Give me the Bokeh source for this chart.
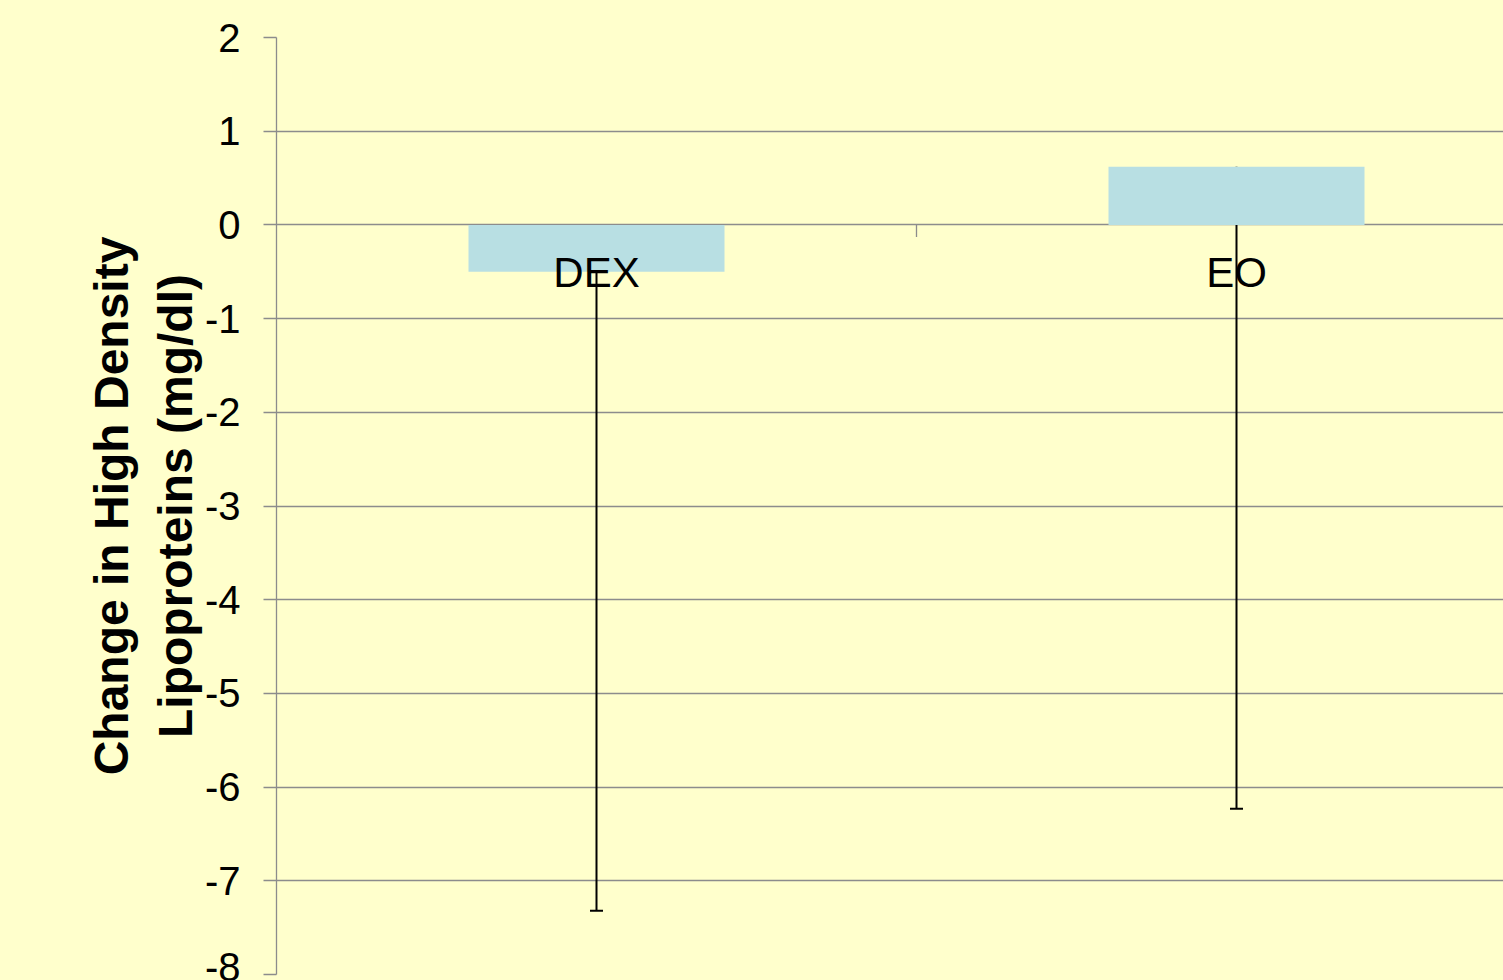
from bokeh.plotting import figure
from bokeh.models import (Range1d, FixedTicker, Whisker, TeeHead, ColumnDataSource,
                          GlobalInlineStyleSheet, PrintfTickFormatter)
from bokeh.core.properties import value
from bokeh.embed import file_html
from bokeh.resources import INLINE

# ---- data ----
categories = ["DEX", "EO"]
changes = [-0.5, 0.62]
error_minus = [6.82, 6.85]
y_ticks = [-8, -7, -6, -5, -4, -3, -2, -1, 0, 1, 2]
y_title = "Change in High Density\nLipoproteins (mg/dl)"

# ---- style ----
BG = "#FFFFCC"
GRID = "#8C8C8C"
BAR = "#B8DFE3"
FONT = "Liberation Sans"

n = len(categories)
xs = [i + 0.5 for i in range(n)]
lows = [v - e for v, e in zip(changes, error_minus)]
src = ColumnDataSource(dict(x=xs, cat=categories, top=changes, lower=lows, zero=[0.0] * n))

W, H = 1503, 980
left, top_b, bottom_b = 276, 37, 6
frame_h = H - top_b - bottom_b
y0, y1 = min(y_ticks), max(y_ticks)
px_per_unit = frame_h / (y1 - y0)
cat_px = 640.0
x_end = (W - left) / cat_px

p = figure(width=W, height=H, output_backend="svg", toolbar_location=None,
           x_range=Range1d(0, x_end), y_range=Range1d(y0, y1),
           x_axis_type=None,
           min_border_left=left, min_border_top=top_b, min_border_bottom=bottom_b,
           min_border_right=0,
           background_fill_color=BG, border_fill_color=BG, outline_line_color=None)
p.stylesheets = [GlobalInlineStyleSheet(css="html, body { background: #FFFFCC; }")]

ticker = FixedTicker(ticks=y_ticks)
p.yaxis.ticker = ticker
p.ygrid.ticker = ticker
p.ygrid.grid_line_color = GRID
p.ygrid.grid_line_width = 1.3

ax = p.yaxis[0]
ax.formatter = PrintfTickFormatter(format="%d")
ax.axis_line_color = GRID
ax.axis_line_width = 1.3
ax.major_tick_line_color = GRID
ax.major_tick_line_width = 1.3
ax.major_tick_out = 13
ax.major_tick_in = 0
ax.minor_tick_line_color = None
ax.major_label_text_font = FONT
ax.major_label_text_font_size = "40px"
ax.major_label_text_color = "black"
ax.major_label_standoff = 23
ax.axis_label = y_title
ax.axis_label_text_font = FONT
ax.axis_label_text_font_size = "48px"
ax.axis_label_text_font_style = "bold"
ax.axis_label_text_color = "black"
ax.axis_label_standoff = 0

# bars
p.vbar(x="x", top="top", bottom="zero", width=0.4, source=src,
       fill_color=BAR, line_color=None)

# category separator tick marks on the zero line
seps = [(xs[i] + xs[i + 1]) / 2 for i in range(n - 1)]
tick_len = 12 / px_per_unit
p.segment(x0=seps, x1=seps, y0=[0.0] * len(seps), y1=[-tick_len] * len(seps),
          line_color=GRID, line_width=1.3)

# category labels next to the zero line
p.text(x="x", y="zero", text="cat", source=src, text_align="center",
       text_baseline="alphabetic", y_offset=48,
       text_font=value(FONT), text_font_size="42px", text_color="black")

# error bars (minus only)
wh = Whisker(base="x", upper="top", lower="lower", source=src,
             upper_head=None,
             lower_head=TeeHead(size=13, line_color="black", line_width=2),
             line_color="black", line_width=2)
p.add_layout(wh)

open("out.html", "w").write(file_html(p, INLINE))
